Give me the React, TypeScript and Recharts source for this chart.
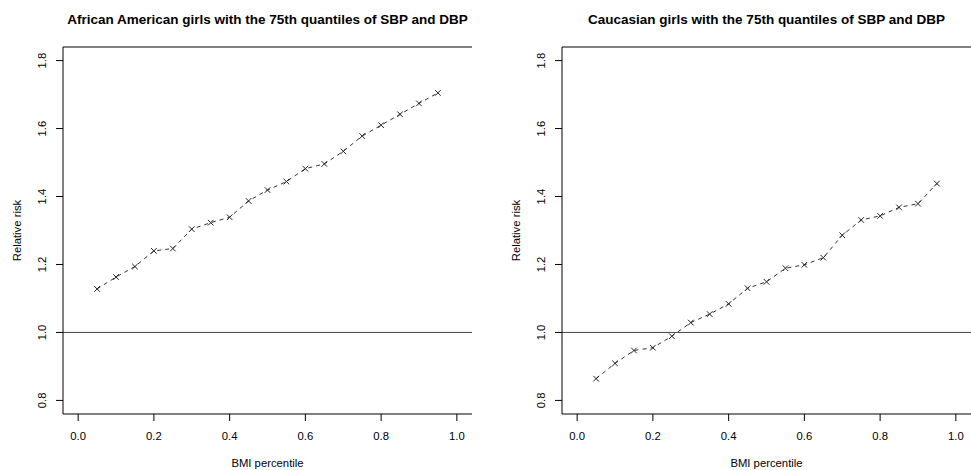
import React from "react";
import { LineChart, Line, XAxis, YAxis, ReferenceLine } from "recharts";

// ---- data ----
const bmiPercentile = [0.05, 0.1, 0.15, 0.2, 0.25, 0.3, 0.35, 0.4, 0.45, 0.5, 0.55, 0.6, 0.65, 0.7, 0.75, 0.8, 0.85, 0.9, 0.95];
const africanAmericanRR = [1.128, 1.163, 1.194, 1.24, 1.247, 1.304, 1.323, 1.339, 1.387, 1.419, 1.444, 1.482, 1.496, 1.533, 1.578, 1.61, 1.642, 1.674, 1.705];
const caucasianRR = [0.864, 0.909, 0.947, 0.955, 0.989, 1.029, 1.054, 1.084, 1.13, 1.149, 1.189, 1.199, 1.22, 1.286, 1.331, 1.343, 1.368, 1.379, 1.438];

const xTicks = [0, 0.2, 0.4, 0.6, 0.8, 1.0];
const xTickLabels = ["0.0", "0.2", "0.4", "0.6", "0.8", "1.0"];
const yTicks = [0.8, 1.0, 1.2, 1.4, 1.6, 1.8];
const yTickLabels = ["0.8", "1.0", "1.2", "1.4", "1.6", "1.8"];
const xDomain = [-0.04, 1.04];
const yDomain = [0.76, 1.84];
const referenceRR = 1.0;

const titles = [
  "African American girls with the 75th quantiles of SBP and DBP",
  "Caucasian girls with the 75th quantiles of SBP and DBP",
];
const xLabel = "BMI percentile";
const yLabel = "Relative risk";

// ---- layout ----
const FONT = "'Liberation Sans', Arial, Helvetica, sans-serif";
const H = 470;
const PLOT_TOP = 47;
const PLOT_BOTTOM = 414;
const BASE_FS = 11.3;

type PanelProps = {
  title: string;
  values: number[];
  left: number;
  width: number;
  plotLeft: number;
  marginRight: number;
};

const XTick = (props: any) => {
  const { x, index } = props;
  return (
    <text x={x} y={PLOT_BOTTOM + 26} textAnchor="middle" fontSize={BASE_FS} fontFamily={FONT} fill="#000">
      {xTickLabels[index]}
    </text>
  );
};

const makeYTick = (plotLeft: number) => (props: any) => {
  const { y, index } = props;
  const bx = plotLeft - 17;
  return (
    <text
      x={bx}
      y={y}
      transform={`rotate(-90, ${bx}, ${y})`}
      textAnchor="middle"
      fontSize={BASE_FS}
      fontFamily={FONT}
      fill="#000"
    >
      {yTickLabels[index]}
    </text>
  );
};

const TitleLabel = (props: any) => {
  const { cx, text } = props;
  return (
    <text x={cx} y={24} textAnchor="middle" fontSize={13.5} fontWeight="bold" fontFamily={FONT} fill="#000">
      {text}
    </text>
  );
};

const XTitle = (props: any) => {
  const { cx, text } = props;
  return (
    <text x={cx} y={PLOT_BOTTOM + 53} textAnchor="middle" fontSize={BASE_FS} fontFamily={FONT} fill="#000">
      {text}
    </text>
  );
};

const YTitle = (props: any) => {
  const { bx, text } = props;
  const cy = (PLOT_TOP + PLOT_BOTTOM) / 2;
  return (
    <text
      x={bx}
      y={cy}
      transform={`rotate(-90, ${bx}, ${cy})`}
      textAnchor="middle"
      fontSize={BASE_FS}
      fontFamily={FONT}
      fill="#000"
    >
      {text}
    </text>
  );
};

const CrossDot = (props: any) => {
  const { cx, cy, index } = props;
  if (cx == null || cy == null) return <g key={`d${index}`} />;
  const s = 2.8;
  return (
    <g key={`d${index}`}>
      <line x1={cx - s} y1={cy - s} x2={cx + s} y2={cy + s} stroke="#222" strokeWidth={1} />
      <line x1={cx - s} y1={cy + s} x2={cx + s} y2={cy - s} stroke="#222" strokeWidth={1} />
    </g>
  );
};

const Panel = ({ title, values, left, width, plotLeft, marginRight }: PanelProps) => {
  const data = bmiPercentile.map((p, i) => ({ p, rr: values[i] }));
  const plotWidth = width - plotLeft - marginRight;
  const cx = plotLeft + plotWidth / 2;
  return (
    <div style={{ position: "absolute", left, top: 0, width, height: H }}>
      <LineChart width={width} height={H} data={data} margin={{ top: 0, right: marginRight, bottom: 0, left: 0 }}>
        <XAxis
          dataKey="p"
          type="number"
          domain={xDomain}
          ticks={xTicks}
          allowDataOverflow
          height={H - PLOT_BOTTOM}
          tickSize={7}
          tickLine={{ stroke: "#000" }}
          axisLine={{ stroke: "#000" }}
          tick={<XTick />}
          interval={0}
          label={<XTitle cx={cx} text={xLabel} />}
        />
        <XAxis
          xAxisId="top"
          orientation="top"
          dataKey="p"
          type="number"
          domain={xDomain}
          allowDataOverflow
          height={PLOT_TOP}
          tick={false}
          tickLine={false}
          axisLine={{ stroke: "#000" }}
          label={<TitleLabel cx={cx} text={title} />}
        />
        <YAxis
          type="number"
          domain={yDomain}
          ticks={yTicks}
          allowDataOverflow
          width={plotLeft}
          tickSize={7}
          tickLine={{ stroke: "#000" }}
          axisLine={{ stroke: "#000" }}
          tick={makeYTick(plotLeft)}
          interval={0}
          label={<YTitle bx={plotLeft - 42} text={yLabel} />}
        />
        <YAxis
          yAxisId="right"
          orientation="right"
          type="number"
          domain={yDomain}
          allowDataOverflow
          width={0}
          tick={false}
          tickLine={false}
          axisLine={{ stroke: "#000" }}
        />
        <ReferenceLine y={referenceRR} stroke="#444" strokeWidth={1} />
        <Line
          type="linear"
          dataKey="rr"
          stroke="#333"
          strokeWidth={1}
          strokeDasharray="4 4"
          dot={(p: any) => <CrossDot key={`d${p.index}`} {...p} />}
          activeDot={false}
          isAnimationActive={false}
        />
      </LineChart>
    </div>
  );
};

export default function App() {
  return (
    <div style={{ position: "absolute", left: 0, top: 0, width: 971, height: H, background: "#fff", overflow: "hidden" }}>
      <Panel title={titles[0]} values={africanAmericanRR} left={0} width={485} plotLeft={63} marginRight={13} />
      <Panel title={titles[1]} values={caucasianRR} left={485} width={486} plotLeft={77} marginRight={0} />
    </div>
  );
}
